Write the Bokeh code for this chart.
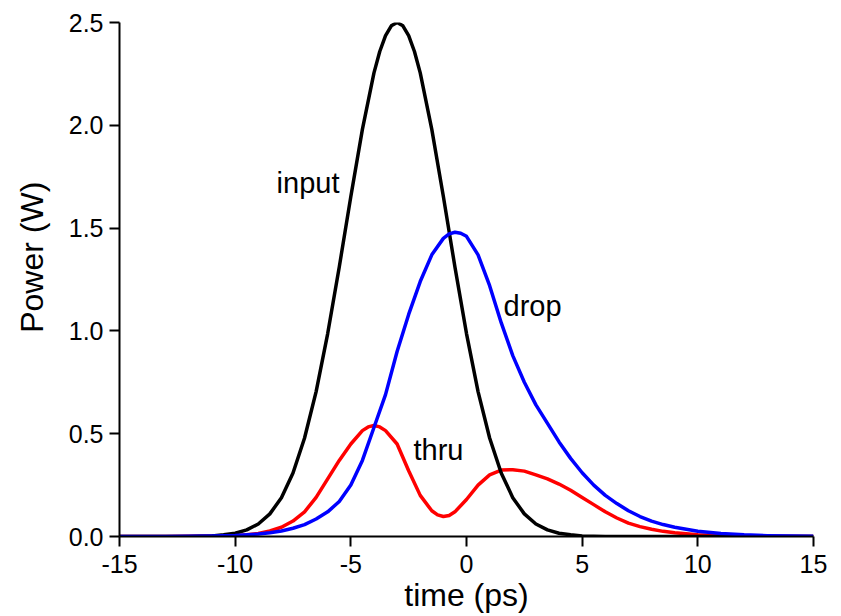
from bokeh.plotting import figure
from bokeh.models import Range1d, Label
from bokeh.embed import file_html
from bokeh.resources import INLINE

# input pulse: time (ps) and power (W)
t_input = [-15, -12, -11, -10.5, -10, -9.5, -9, -8.5, -8, -7.5, -7, -6.5, -6, -5.5, -5,
           -4.5, -4, -3.75, -3.5, -3.25, -3, -2.75, -2.5, -2.25, -2, -1.5, -1, -0.5, 0,
           0.5, 1, 1.5, 2, 2.5, 3, 3.5, 4, 4.5, 5, 6, 15]
p_input = [0, 0, 0.003, 0.008, 0.016, 0.032, 0.061, 0.110, 0.189, 0.309, 0.479, 0.705,
           0.987, 1.311, 1.654, 1.98, 2.255, 2.359, 2.436, 2.484, 2.5, 2.484, 2.436, 2.359,
           2.255, 1.98, 1.654, 1.311, 0.987, 0.705, 0.479, 0.309, 0.189, 0.110, 0.061,
           0.032, 0.016, 0.008, 0.003, 0, 0]

# drop port
t_drop = [-15, -13, -12, -11, -10, -9, -8.5, -8, -7.5, -7, -6.5, -6, -5.5, -5, -4.5, -4,
          -3.5, -3, -2.5, -2, -1.5, -1, -0.75, -0.5, -0.25, 0, 0.5, 1, 1.5, 2, 2.5, 3,
          3.5, 4, 4.5, 5, 5.5, 6, 6.5, 7, 7.5, 8, 8.5, 9, 10, 11, 12, 13, 14, 15]
p_drop = [0, 0.0005, 0.001, 0.002, 0.005, 0.012, 0.018, 0.027, 0.04, 0.058, 0.085, 0.12,
          0.17, 0.25, 0.37, 0.53, 0.69, 0.9, 1.08, 1.24, 1.37, 1.45, 1.472, 1.48, 1.475,
          1.46, 1.37, 1.22, 1.04, 0.88, 0.75, 0.64, 0.55, 0.46, 0.38, 0.31, 0.25, 0.2,
          0.16, 0.125, 0.097, 0.075, 0.058, 0.045, 0.026, 0.015, 0.008, 0.004, 0.002, 0.001]

# through port
t_thru = [-15, -13, -12, -11, -10, -9.5, -9, -8.5, -8, -7.5, -7, -6.5, -6, -5.5, -5, -4.5,
          -4.25, -4, -3.75, -3.5, -3, -2.5, -2, -1.5, -1.25, -1, -0.75, -0.5, 0, 0.5, 1,
          1.5, 2, 2.5, 3, 3.5, 4, 4.5, 5, 5.5, 6, 6.5, 7, 7.5, 8, 8.5, 9, 10, 11, 12, 13, 15]
p_thru = [0, 0.0005, 0.001, 0.002, 0.004, 0.008, 0.015, 0.027, 0.045, 0.075, 0.12, 0.19,
          0.28, 0.37, 0.45, 0.515, 0.533, 0.54, 0.533, 0.515, 0.45, 0.32, 0.2, 0.125,
          0.105, 0.097, 0.102, 0.12, 0.18, 0.25, 0.3, 0.323, 0.325, 0.318, 0.3, 0.28,
          0.255, 0.225, 0.19, 0.155, 0.12, 0.09, 0.065, 0.048, 0.035, 0.025, 0.018, 0.009,
          0.004, 0.002, 0.001, 0]

x_ticks = [-15, -10, -5, 0, 5, 10, 15]
y_ticks = [0.0, 0.5, 1.0, 1.5, 2.0, 2.5]
y_tick_labels = ["0.0", "0.5", "1.0", "1.5", "2.0", "2.5"]

p = figure(width=841, height=616, output_backend="svg", toolbar_location=None,
           x_range=Range1d(-15, 15), y_range=Range1d(0, 2.5),
           min_border_left=119, min_border_right=28, min_border_top=22,
           min_border_bottom=80)
p.outline_line_color = None
p.grid.visible = False

p.line(t_thru, p_thru, line_color="#ff0000", line_width=3.5, line_join="round")
p.line(t_input, p_input, line_color="black", line_width=3.5, line_join="round")
p.line(t_drop, p_drop, line_color="#0000ff", line_width=3.5, line_join="round")

font = "Liberation Sans"
for ax in (p.xaxis[0], p.yaxis[0]):
    ax.axis_line_width = 2
    ax.axis_line_color = "black"
    ax.major_tick_line_width = 2
    ax.minor_tick_line_width = 2
    ax.major_tick_in = 0
    ax.major_tick_out = 10
    ax.minor_tick_in = 0
    ax.minor_tick_out = 6
    ax.major_label_text_font = font
    ax.major_label_text_font_size = "25px"
    ax.major_label_text_color = "black"
    ax.axis_label_text_font = font
    ax.axis_label_text_font_size = "32px"
    ax.axis_label_text_font_style = "normal"
    ax.axis_label_text_color = "black"

p.xaxis.ticker = x_ticks
p.xaxis.ticker.num_minor_ticks = 5
p.yaxis.ticker = y_ticks
p.yaxis.ticker.num_minor_ticks = 5
p.xaxis.major_label_overrides = {v: str(v) for v in x_ticks}
p.yaxis.major_label_overrides = {v: s for v, s in zip(y_ticks, y_tick_labels)}
p.xaxis.major_label_standoff = 8
p.yaxis.major_label_standoff = 6
p.xaxis.axis_label = "time (ps)"
# leading no-break spaces lift the rotated title, as in the reference
p.yaxis.axis_label = "\u00a0" * 5 + "Power (W)"
p.xaxis.axis_label_standoff = 1
p.yaxis.axis_label_standoff = 16

for txt, x, y in [("input", -8.21, 1.72), ("drop", 1.6, 1.12), ("thru", -2.29, 0.42)]:
    p.add_layout(Label(x=x, y=y, text=txt, text_font=font, text_font_size="29px",
                       text_color="black", text_baseline="middle", text_align="left"))

open("out.html", "w").write(file_html(p, INLINE))
